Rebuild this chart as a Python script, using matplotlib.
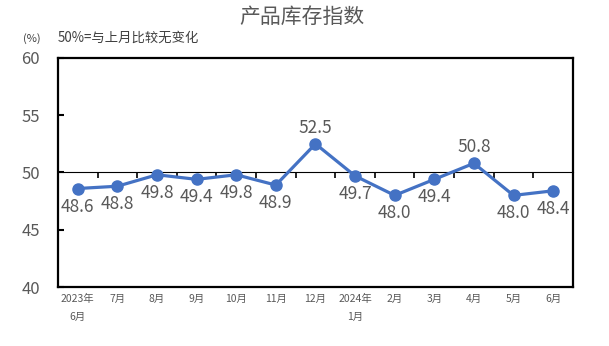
import matplotlib
matplotlib.use('Agg')
import matplotlib.pyplot as plt

plt.rcParams['font.family'] = ['Noto Sans CJK SC', 'DejaVu Sans']

months = ['2023年\n6月', '7月', '8月', '9月', '10月', '11月', '12月',
          '2024年\n1月', '2月', '3月', '4月', '5月', '6月']
values = [48.6, 48.8, 49.8, 49.4, 49.8, 48.9, 52.5, 49.7, 48.0, 49.4, 50.8, 48.0, 48.4]
label_above = [False, False, False, False, False, False, True,
               False, False, False, True, False, False]

grey = '#595959'
blue = '#4472C4'

fig = plt.figure(figsize=(6.09, 3.46), dpi=100)
ax = fig.add_axes([0.0952, 0.1705, 0.8456, 0.662])

x = [i + 0.5 for i in range(len(values))]
ax.plot(x, values, color=blue, lw=2.3, marker='o', markersize=8, zorder=3)

for xi, v, up in zip(x, values, label_above):
    ax.annotate(f'{v:.1f}', (xi, v), xytext=(0, 11.5 if up else -13),
                textcoords='offset points', ha='center', va='center',
                fontsize=12.5, color=grey)

ax.set_xlim(0, len(values))
ax.set_ylim(40, 60)
ax.set_yticks([40, 45, 50, 55, 60])
ax.tick_params(axis='y', direction='in', length=4, width=1.5, colors='black',
               labelcolor=grey, labelsize=12, pad=13)
ax.set_xticks(x)
ax.set_xticklabels(months, linespacing=2.0)
ax.tick_params(axis='x', length=0, labelsize=7.5, labelcolor=grey, pad=5)
for s in ax.spines.values():
    s.set_linewidth(1.6)
    s.set_color('black')

# axis line at 50 with category boundary ticks
mid = ax.secondary_xaxis(0.5)
mid.set_xticks(range(len(values) + 1))
mid.set_xticklabels([])
mid.tick_params(direction='in', length=4, width=1.2, colors='black')
mid.spines['bottom'].set_linewidth(1.5)

fig.text(0.495, 0.951, '产品库存指数', ha='center', va='center', fontsize=15, color=grey)
fig.text(0.037, 0.888, '(%)', ha='left', va='center', fontsize=8, color='#404040')
fig.text(0.095, 0.89, '50%=与上月比较无变化', ha='left', va='center', fontsize=9.6, color='#404040')

fig.savefig('out.png', dpi=100)
